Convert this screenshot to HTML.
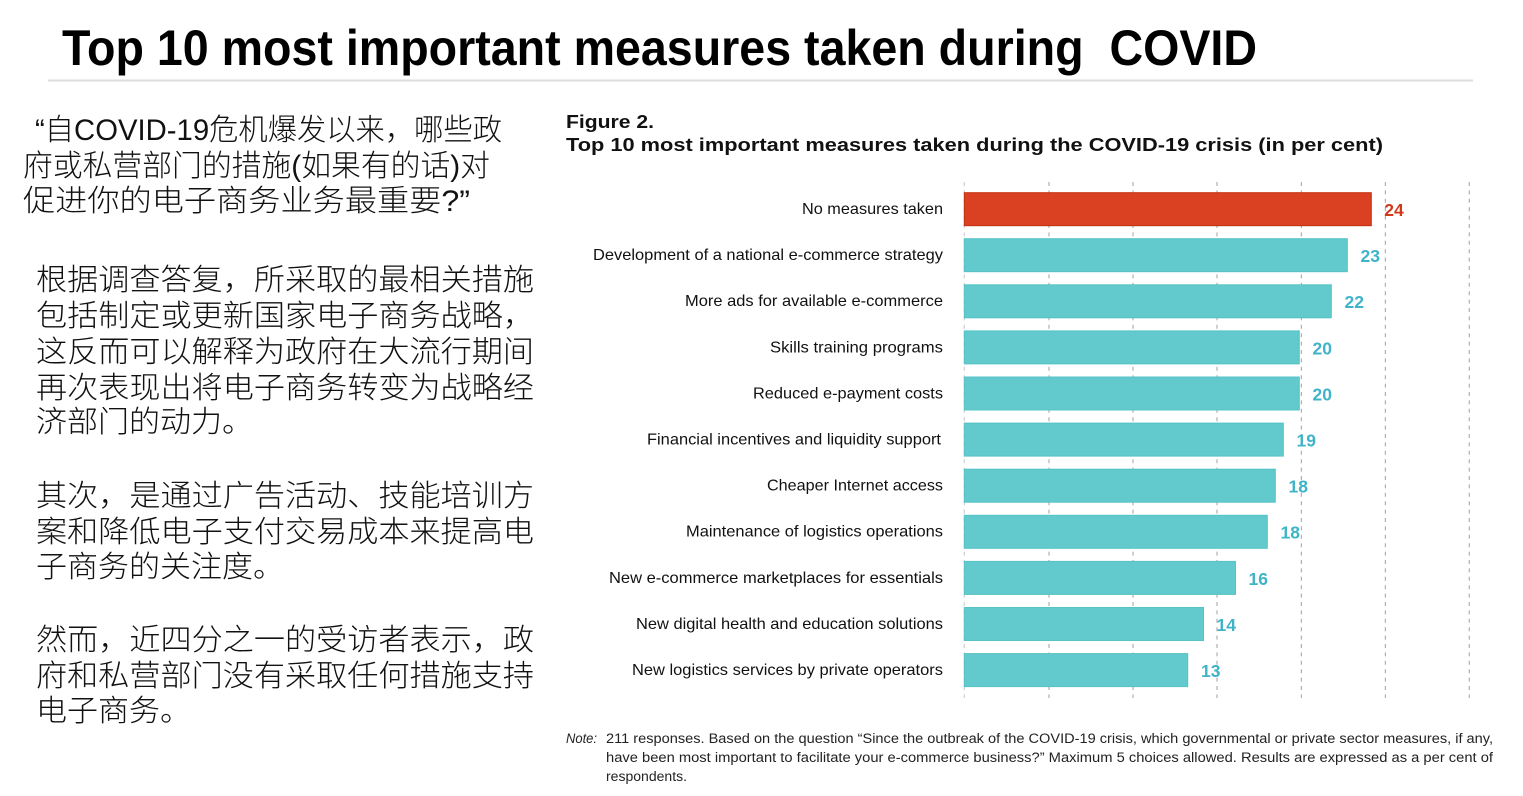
<!DOCTYPE html>
<html>
<head>
<meta charset="utf-8">
<style>
  html,body{margin:0;padding:0;background:#fff;}
  svg{display:block;}
  .cjk{font-family:"Liberation Sans","Noto Sans CJK SC",sans-serif;font-weight:300;fill:#111;}
  .lab{font-family:"Liberation Sans",sans-serif;font-size:16px;fill:#111;}
  .val{font-family:"Liberation Sans",sans-serif;font-size:17.5px;font-weight:bold;fill:#3fb3c8;}
  .grid{stroke:#b0b0b0;stroke-width:1.2;stroke-dasharray:4 4.4;}
</style>
</head>
<body>
<svg width="1523" height="796" viewBox="0 0 1523 796" xmlns="http://www.w3.org/2000/svg">
  <rect width="1523" height="796" fill="#fff"/>

  <!-- Main title -->
  <text x="62" y="65" font-family="Liberation Sans, sans-serif" font-weight="bold" font-size="50" fill="#000" textLength="1195" lengthAdjust="spacingAndGlyphs" xml:space="preserve">Top 10 most important measures taken during  COVID</text>
  <line x1="48" y1="80.5" x2="1473" y2="80.5" stroke="#dcdcdc" stroke-width="2"/>

  <!-- Left Chinese text -->
  <g class="cjk" font-size="30">
    <text x="35" y="140" textLength="467" lengthAdjust="spacingAndGlyphs">“自COVID-19危机爆发以来，哪些政</text>
    <text x="23" y="176" textLength="467" lengthAdjust="spacingAndGlyphs">府或私营部门的措施(如果有的话)对</text>
    <text x="23" y="211" textLength="447" lengthAdjust="spacingAndGlyphs">促进你的电子商务业务最重要?”</text>

    <text x="36" y="290" textLength="498" lengthAdjust="spacingAndGlyphs">根据调查答复，所采取的最相关措施</text>
    <text x="36" y="326" textLength="498" lengthAdjust="spacingAndGlyphs">包括制定或更新国家电子商务战略，</text>
    <text x="36" y="362" textLength="498" lengthAdjust="spacingAndGlyphs">这反而可以解释为政府在大流行期间</text>
    <text x="36" y="398" textLength="498" lengthAdjust="spacingAndGlyphs">再次表现出将电子商务转变为战略经</text>
    <text x="36" y="432" textLength="217" lengthAdjust="spacingAndGlyphs">济部门的动力。</text>

    <text x="36" y="506" textLength="498" lengthAdjust="spacingAndGlyphs">其次，是通过广告活动、技能培训方</text>
    <text x="36" y="542" textLength="498" lengthAdjust="spacingAndGlyphs">案和降低电子支付交易成本来提高电</text>
    <text x="36" y="577" textLength="248" lengthAdjust="spacingAndGlyphs">子商务的关注度。</text>

    <text x="36" y="650" textLength="498" lengthAdjust="spacingAndGlyphs">然而，近四分之一的受访者表示，政</text>
    <text x="36" y="686" textLength="498" lengthAdjust="spacingAndGlyphs">府和私营部门没有采取任何措施支持</text>
    <text x="36" y="721" textLength="155" lengthAdjust="spacingAndGlyphs">电子商务。</text>
  </g>

  <!-- Figure header -->
  <text x="566" y="128" font-family="Liberation Sans, sans-serif" font-weight="bold" font-size="18.5" fill="#111" textLength="88" lengthAdjust="spacingAndGlyphs">Figure 2.</text>
  <text x="566" y="151" font-family="Liberation Sans, sans-serif" font-weight="bold" font-size="18.5" fill="#111" textLength="817" lengthAdjust="spacingAndGlyphs">Top 10 most important measures taken during the COVID-19 crisis (in per cent)</text>

  <!-- Gridlines -->
  <g class="grid">
    <line x1="964.3" y1="182" x2="964.3" y2="698" stroke="#cfcfcf"/>
    <line x1="1049" y1="182" x2="1049" y2="698"/>
    <line x1="1133" y1="182" x2="1133" y2="698"/>
    <line x1="1217" y1="182" x2="1217" y2="698"/>
    <line x1="1301.4" y1="182" x2="1301.4" y2="698"/>
    <line x1="1385.4" y1="182" x2="1385.4" y2="698"/>
    <line x1="1469.3" y1="182" x2="1469.3" y2="698"/>
  </g>

  <!-- Bars -->
  <g>
    <rect x="964.3" y="192.7" width="407" height="33" fill="#da4022" stroke="#c2300f" stroke-width="1"/>
    <rect x="964.3" y="238.7" width="383" height="33" fill="#62c9cc" stroke="#56c3c7" stroke-width="1"/>
    <rect x="964.3" y="284.8" width="367" height="33" fill="#62c9cc" stroke="#56c3c7" stroke-width="1"/>
    <rect x="964.3" y="330.9" width="335" height="33" fill="#62c9cc" stroke="#56c3c7" stroke-width="1"/>
    <rect x="964.3" y="377.0" width="335" height="33" fill="#62c9cc" stroke="#56c3c7" stroke-width="1"/>
    <rect x="964.3" y="423.1" width="319" height="33" fill="#62c9cc" stroke="#56c3c7" stroke-width="1"/>
    <rect x="964.3" y="469.2" width="311" height="33" fill="#62c9cc" stroke="#56c3c7" stroke-width="1"/>
    <rect x="964.3" y="515.3" width="303" height="33" fill="#62c9cc" stroke="#56c3c7" stroke-width="1"/>
    <rect x="964.3" y="561.4" width="271.2" height="33" fill="#62c9cc" stroke="#56c3c7" stroke-width="1"/>
    <rect x="964.3" y="607.5" width="239.2" height="33" fill="#62c9cc" stroke="#56c3c7" stroke-width="1"/>
    <rect x="964.3" y="653.6" width="223.4" height="33" fill="#62c9cc" stroke="#56c3c7" stroke-width="1"/>
  </g>

  <!-- Category labels -->
  <g class="lab">
    <text x="802" y="214" textLength="141" lengthAdjust="spacingAndGlyphs">No measures taken</text>
    <text x="593" y="260.1" textLength="350" lengthAdjust="spacingAndGlyphs">Development of a national e-commerce strategy</text>
    <text x="685" y="306.2" textLength="258" lengthAdjust="spacingAndGlyphs">More ads for available e-commerce</text>
    <text x="770" y="352.3" textLength="173" lengthAdjust="spacingAndGlyphs">Skills training programs</text>
    <text x="753" y="398.4" textLength="190" lengthAdjust="spacingAndGlyphs">Reduced e-payment costs</text>
    <text x="647" y="444.5" textLength="294" lengthAdjust="spacingAndGlyphs">Financial incentives and liquidity support</text>
    <text x="767" y="490.6" textLength="176" lengthAdjust="spacingAndGlyphs">Cheaper Internet access</text>
    <text x="686" y="536.7" textLength="257" lengthAdjust="spacingAndGlyphs">Maintenance of logistics operations</text>
    <text x="609" y="582.8" textLength="334" lengthAdjust="spacingAndGlyphs">New e-commerce marketplaces for essentials</text>
    <text x="636" y="628.9" textLength="307" lengthAdjust="spacingAndGlyphs">New digital health and education solutions</text>
    <text x="632" y="675" textLength="311" lengthAdjust="spacingAndGlyphs">New logistics services by private operators</text>
  </g>

  <!-- Values -->
  <g class="val">
    <text x="1384.3" y="216" fill="#d2391b" style="fill:#d2391b">24</text>
    <text x="1360.5" y="262.1">23</text>
    <text x="1344.5" y="308.2">22</text>
    <text x="1312.5" y="354.3">20</text>
    <text x="1312.5" y="400.4">20</text>
    <text x="1296.5" y="446.5">19</text>
    <text x="1288.5" y="492.6">18</text>
    <text x="1280.5" y="538.7">18</text>
    <text x="1248.5" y="584.8">16</text>
    <text x="1216.5" y="630.9">14</text>
    <text x="1201" y="677">13</text>
  </g>

  <!-- Note -->
  <g font-family="Liberation Sans, sans-serif" font-size="13.5" fill="#222">
    <text x="566" y="743" font-style="italic" textLength="31" lengthAdjust="spacingAndGlyphs">Note:</text>
    <text x="606" y="743" textLength="887" lengthAdjust="spacingAndGlyphs">211 responses. Based on the question “Since the outbreak of the COVID-19 crisis, which governmental or private sector measures, if any,</text>
    <text x="606" y="762" textLength="887" lengthAdjust="spacingAndGlyphs">have been most important to facilitate your e-commerce business?” Maximum 5 choices allowed. Results are expressed as a per cent of</text>
    <text x="606" y="781" textLength="81" lengthAdjust="spacingAndGlyphs">respondents.</text>
  </g>
</svg>
</body>
</html>
